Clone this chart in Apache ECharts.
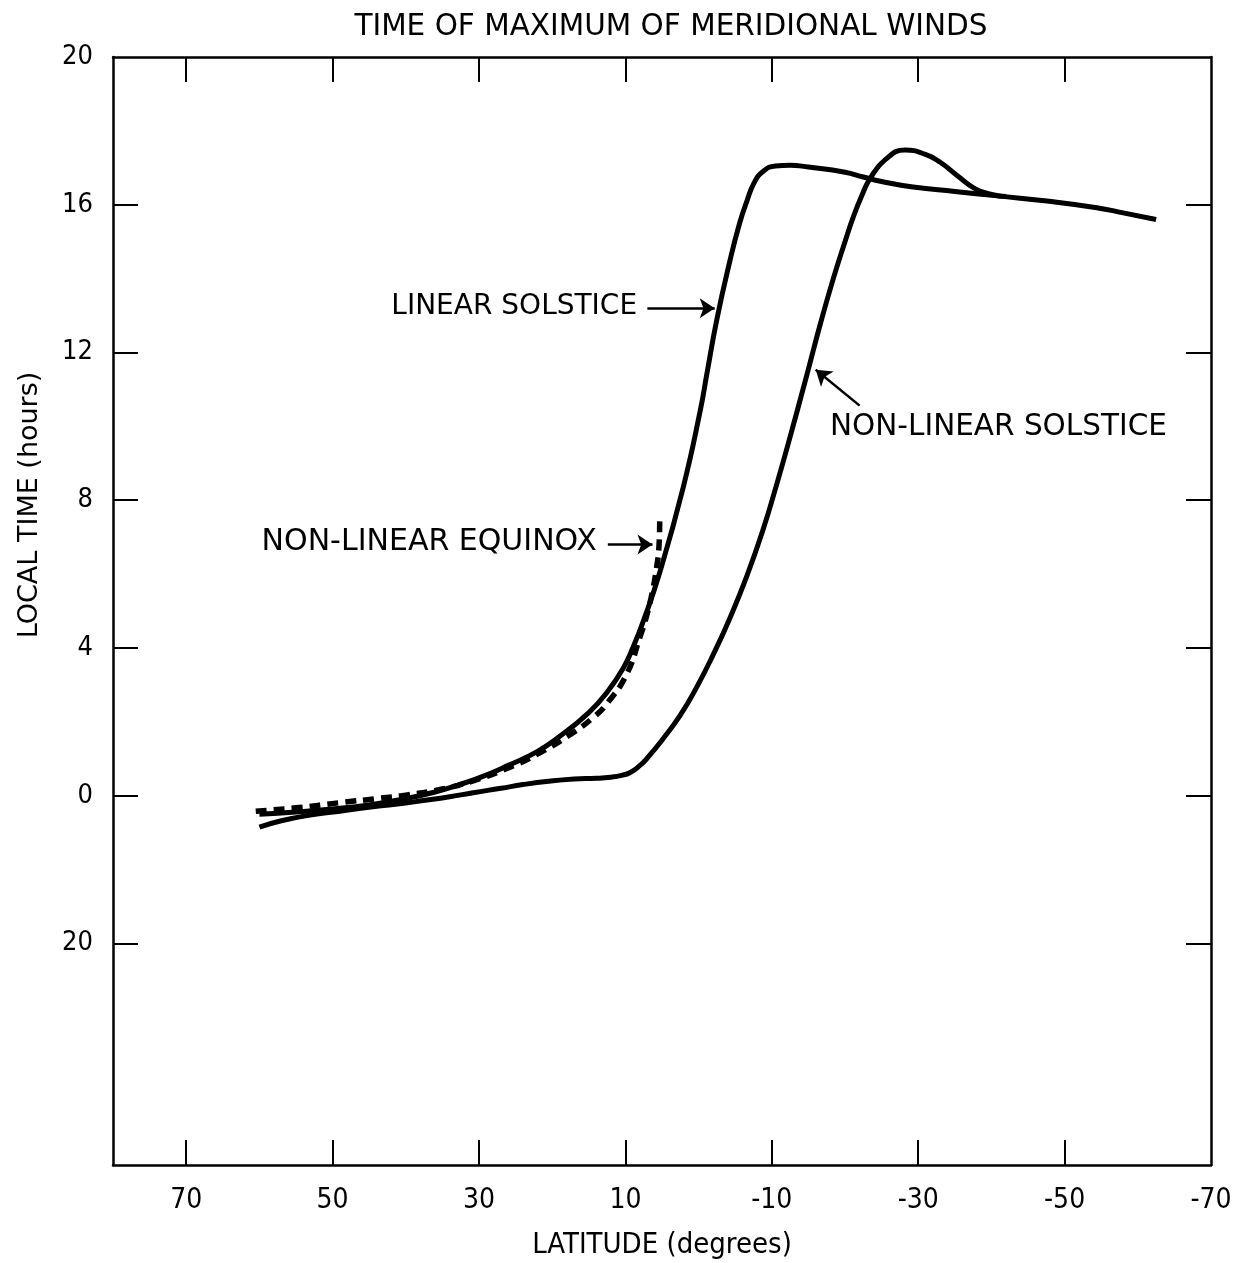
<!DOCTYPE html>
<html>
<head>
<meta charset="utf-8">
<script src="https://cdn.jsdelivr.net/npm/echarts@6/dist/echarts.min.js"></script>
<style>
  html, body { margin: 0; padding: 0; background: #fff; }
  #chart { width: 1234px; height: 1263px; }
</style>
</head>
<body>
<div id="chart"></div>
<script>
// Axis ticks: latitude in degrees (north positive), local time in hours
const latitudeTicks = [70, 50, 30, 10, -10, -30, -50, -70];
const timeTicks = [20, 16, 12, 8, 4, 0, -4];

// [latitude, local time of maximum (hours)]
const linearSolstice = [
  [60, -0.5], [55, -0.44], [50, -0.36], [45, -0.25], [40, -0.08], [36, 0.1],
  [33, 0.28], [30, 0.48], [26, 0.82], [22, 1.2], [19, 1.6], [15, 2.25],
  [12.5, 2.8], [10.3, 3.45], [9, 4.0], [7.6, 4.7], [5.3, 6.05], [2.1, 8.35],
  [-0.2, 10.4], [-1.2, 11.5], [-2.5, 12.9], [-4.3, 14.5], [-5.6, 15.5],
  [-6.6, 16.1], [-7.6, 16.6], [-8.8, 16.9], [-10.5, 17.05], [-12.5, 17.07],
  [-15, 17.02], [-20, 16.88], [-22.5, 16.75], [-25, 16.63], [-29.3, 16.48],
  [-35, 16.36], [-40.8, 16.24], [-47.6, 16.1], [-54.4, 15.92], [-58, 15.78],
  [-62.5, 15.6]
];

const nonLinearSolstice = [
  [60, -0.85], [57, -0.68], [53.5, -0.54], [49, -0.42], [44.5, -0.3], [40, -0.2],
  [37.6, -0.13], [34, -0.03], [30.8, 0.08], [27, 0.2], [24, 0.3], [20.5, 0.39],
  [17, 0.45], [14, 0.47], [12, 0.5], [10.5, 0.55], [9.4, 0.62], [8, 0.82],
  [7, 1.02], [4.9, 1.53], [2.5, 2.18], [0.2, 2.96], [-2, 3.82], [-4.3, 4.82],
  [-6.6, 5.95], [-8.8, 7.2], [-10.7, 8.45], [-12.2, 9.5], [-14.8, 11.4],
  [-16.6, 12.75], [-18.4, 14.0], [-20, 15.0], [-21.1, 15.65], [-22.3, 16.25],
  [-23.4, 16.7], [-25.5, 17.22], [-28.2, 17.48], [-30.9, 17.37], [-33, 17.15],
  [-35.4, 16.78], [-37.8, 16.43], [-40.2, 16.27], [-42, 16.22]
];

const nonLinearEquinox = [
  [60.5, -0.42], [55, -0.33], [49, -0.19], [44, -0.08], [39.8, 0.02], [35, 0.18],
  [30.8, 0.4], [26, 0.75], [21.7, 1.16], [17.2, 1.7], [14.5, 2.1], [12.5, 2.5],
  [9.8, 3.3], [8, 4.3], [7.2, 4.8], [6.5, 5.35], [5.8, 6.1], [5.4, 6.8], [5.3, 7.6]
];

// Curve labels and their pointer arrows, in [latitude, hours]
const curveLabels = ['LINEAR SOLSTICE', 'NON-LINEAR EQUINOX', 'NON-LINEAR SOLSTICE'];
const labelAnchors = [[8.4, 13.25], [13.9, 6.85], [-17.95, 9.97]];
const arrowTails = [[7.0, 13.2], [12.4, 6.8], [-22.0, 10.56]];
const arrowHeads = [[-2.2, 13.2], [6.3, 6.8], [-16.0, 11.53]];

const INK = '#000';
const WIDE = 'DejaVu Sans, sans-serif';
const NARROW = "'Liberation Sans Narrow', 'DejaVu Sans Condensed', sans-serif";
const labelSizes = [28, 30, 29.5];

const chart = echarts.init(document.getElementById('chart'), null, { renderer: 'canvas' });

const frameLine = { show: true, onZero: false, lineStyle: { color: INK, width: 2.5 } };
const innerTick = (vals) => ({
  show: true, inside: true, length: 25, customValues: vals,
  lineStyle: { color: INK, width: 2 }
});

const xBase = { type: 'value', min: -70, max: 80, inverse: true, splitLine: { show: false } };
const yBase = { type: 'value', min: -10, max: 20, splitLine: { show: false } };

const curveLine = (w, type) => ({ color: INK, width: w, type: type, cap: 'butt', join: 'round' });

chart.setOption({
  animation: false,
  backgroundColor: '#fff',
  title: {
    text: 'TIME OF MAXIMUM OF MERIDIONAL WINDS',
    left: 671, top: 12, textAlign: 'center', padding: 0,
    textStyle: { fontFamily: WIDE, fontSize: 29.5, fontWeight: 'normal', color: INK }
  },
  grid: { left: 113, right: 23, top: 57, bottom: 98, containLabel: false, outerBoundsMode: 'none' },
  xAxis: [
    Object.assign({}, xBase, {
      position: 'bottom',
      axisLine: frameLine,
      axisTick: innerTick(latitudeTicks.slice(0, 7)),
      axisLabel: {
        customValues: latitudeTicks, margin: 22,
        fontFamily: NARROW, fontSize: 28, color: INK
      },
      name: 'LATITUDE (degrees)', nameLocation: 'middle', nameGap: 66,
      nameTextStyle: { fontFamily: NARROW, fontSize: 29, color: INK }
    }),
    Object.assign({}, xBase, {
      position: 'top',
      axisLine: frameLine,
      axisTick: innerTick(latitudeTicks.slice(0, 7)),
      axisLabel: { show: false }
    })
  ],
  yAxis: [
    Object.assign({}, yBase, {
      position: 'left',
      axisLine: frameLine,
      axisTick: innerTick(timeTicks.slice(1)),
      axisLabel: {
        customValues: timeTicks, margin: 20,
        fontFamily: NARROW, fontSize: 27, color: INK,
        formatter: (v) => String(v < 0 ? v + 24 : v)
      },
      name: 'LOCAL TIME (hours)', nameLocation: 'middle', nameGap: 70, nameRotate: 90,
      nameTextStyle: { fontFamily: WIDE, fontSize: 27, color: INK, padding: [0, 0, 0, 212] }
    }),
    Object.assign({}, yBase, {
      position: 'right',
      axisLine: frameLine,
      axisTick: innerTick(timeTicks.slice(1)),
      axisLabel: { show: false }
    })
  ],
  series: [
    {
      name: 'Linear solstice', type: 'line', data: linearSolstice,
      showSymbol: false, smooth: 0.5, silent: true,
      lineStyle: curveLine(5, 'solid'),
      markLine: {
        silent: true, symbol: ['none', 'arrow'], symbolSize: 15,
        label: { show: false },
        lineStyle: { color: INK, width: 2.5, type: 'solid' },
        data: arrowTails.map((t, i) => [{ coord: t }, { coord: arrowHeads[i] }])
      },
      markPoint: {
        silent: true, symbol: 'circle', symbolSize: 0,
        itemStyle: { color: 'rgba(0,0,0,0)' },
        data: labelAnchors.map((c, i) => ({
          coord: c,
          label: {
            show: true, position: 'inside', formatter: curveLabels[i],
            align: i === 2 ? 'left' : 'right', verticalAlign: 'middle',
            fontFamily: WIDE, fontSize: labelSizes[i], color: INK
          }
        }))
      }
    },
    {
      name: 'Non-linear solstice', type: 'line', data: nonLinearSolstice,
      showSymbol: false, smooth: 0.5, silent: true,
      lineStyle: curveLine(5, 'solid')
    },
    {
      name: 'Non-linear equinox', type: 'line', data: nonLinearEquinox,
      showSymbol: false, smooth: 0.5, silent: true,
      lineStyle: curveLine(5.5, [11, 7])
    }
  ]
});
</script>
</body>
</html>
